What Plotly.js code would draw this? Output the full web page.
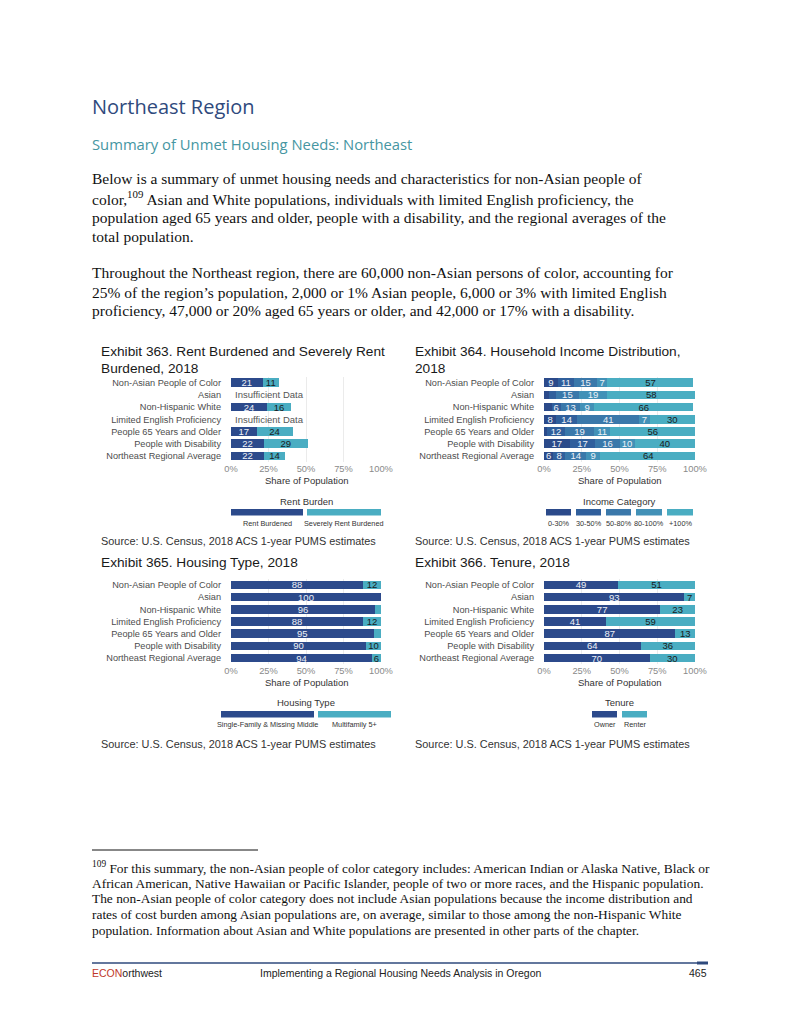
<!DOCTYPE html>
<html>
<head>
<meta charset="utf-8">
<script src="https://cdn.plot.ly/plotly-3.0.1.min.js"></script>
<style>
html,body{margin:0;padding:0;background:#fff;}
#page{width:800px;height:1035px;}
</style>
</head>
<body>
<div id="page"></div>
<script>
// ---------------- DATA ----------------
const groups = ["Non-Asian People of Color","Asian","Non-Hispanic White","Limited English Proficiency","People 65 Years and Older","People with Disability","Northeast Regional Average"];

// Exhibit 363: Rent burden (null = insufficient data)
const rentBurdened        = [21, null, 24, null, 17, 22, 22];
const severelyRentBurdened = [11, null, 16, null, 24, 29, 14];
const rentLegend = ["Rent Burdened","Severely Rent Burdened"];

// Exhibit 364: Household income distribution
const income0_30   = [9, 3, 5, 8, 2, 17, 6];
const income30_50  = [11, 5, 6, 14, 12, 17, 8];
const income50_80  = [15, 15, 13, 41, 19, 16, 14];
const income80_100 = [7, 19, 9, 7, 11, 10, 9];
const income100p   = [57, 58, 66, 30, 56, 40, 64];
const incomeLegend = ["0-30%","30-50%","50-80%","80-100%","+100%"];

// Exhibit 365: Housing type
const singleFamily = [88, 100, 96, 88, 95, 90, 94];
const multifamily  = [12, 0, 4, 12, 5, 10, 6];
const housingLegend = ["Single-Family & Missing Middle","Multifamily 5+"];

// Exhibit 366: Tenure
const owner  = [49, 93, 77, 41, 87, 64, 70];
const renter = [51, 7, 23, 59, 13, 36, 30];
const tenureLegend = ["Owner","Renter"];

const tickVals = [0,25,50,75,100];
const tickText = ["0%","25%","50%","75%","100%"];

// ---------------- STYLE ----------------
const W = 800, H = 1035;
const px = x => x / W;
const py = y => 1 - y / H;
const SANS = "Liberation Sans, Arial, sans-serif";
const SERIF = "Liberation Serif, Times New Roman, serif";
const HEAD = "Open Sans, Noto Sans, sans-serif";
const C_DARK = "#2c4a8b", C_LIGHT = "#4aadc2";
const C_INC = ["#2b4a8a","#305f9c","#3a78aa","#4291b7","#4aadc2"];
const TXT_LIGHT = "#eef1f7", TXT_DARK = "#1a1a1a";

const lab = arr => arr.map(v => (v !== null && v >= 6) ? String(v) : null);

function barTrace(vals, color, tcolor, xa, ya, name) {
  return {
    type: "bar", orientation: "h", name: name,
    y: groups, x: vals,
    text: lab(vals), textposition: "inside", insidetextanchor: "middle",
    textangle: 0, constraintext: "none",
    textfont: {family: SANS, size: 9.5, color: tcolor},
    marker: {color: color, line: {width: 0}},
    xaxis: xa, yaxis: ya, hoverinfo: "skip", showlegend: false, cliponaxis: true
  };
}

const traces = [
  barTrace(rentBurdened, C_DARK, TXT_LIGHT, "x", "y", rentLegend[0]),
  barTrace(severelyRentBurdened, C_LIGHT, TXT_DARK, "x", "y", rentLegend[1]),
  barTrace(income0_30, C_INC[0], TXT_LIGHT, "x2", "y2", incomeLegend[0]),
  barTrace(income30_50, C_INC[1], TXT_LIGHT, "x2", "y2", incomeLegend[1]),
  barTrace(income50_80, C_INC[2], TXT_LIGHT, "x2", "y2", incomeLegend[2]),
  barTrace(income80_100, C_INC[3], TXT_LIGHT, "x2", "y2", incomeLegend[3]),
  barTrace(income100p, C_INC[4], TXT_DARK, "x2", "y2", incomeLegend[4]),
  barTrace(singleFamily, C_DARK, TXT_LIGHT, "x3", "y3", housingLegend[0]),
  barTrace(multifamily, C_LIGHT, TXT_DARK, "x3", "y3", housingLegend[1]),
  barTrace(owner, C_DARK, TXT_LIGHT, "x4", "y4", tenureLegend[0]),
  barTrace(renter, C_LIGHT, TXT_DARK, "x4", "y4", tenureLegend[1])
];

function xAxis(x0, x1, anchor) {
  return {
    domain: [px(x0), px(x1)], anchor: anchor, range: [0, 100], fixedrange: true,
    tickvals: tickVals, ticktext: tickText, showgrid: true, gridcolor: "#ebebeb", gridwidth: 1,
    zeroline: false, showline: false, ticks: "", ticklabelstandoff: 0,
    tickfont: {family: SANS, size: 9.3, color: "#8a8a8a"}
  };
}
function yAxis(y0, y1, anchor) {
  return {
    domain: [py(y1), py(y0)], anchor: anchor, type: "category",
    categoryorder: "array", categoryarray: groups, autorange: "reversed", fixedrange: true,
    showgrid: false, zeroline: false, showline: false, ticks: "", ticklabelstandoff: 9,
    tickfont: {family: SANS, size: 9.2, color: "#4d4d4d"}
  };
}

const ann = [];
const shapes = [];
function A(text, x, y, size, opts) {
  opts = opts || {};
  ann.push({
    text: text, xref: "paper", yref: "paper", x: px(x), y: py(y),
    xanchor: opts.xa || "left", yanchor: "middle", showarrow: false,
    font: {family: opts.family || SANS, size: size, color: opts.color || "#1a1a1a"},
    borderpad: 0
  });
}
function R(x0, y0, x1, y1, color) {
  shapes.push({type: "rect", xref: "paper", yref: "paper", x0: px(x0), x1: px(x1), y0: py(y1), y1: py(y0),
    fillcolor: color, line: {width: 0}});
}
function L(x0, y0, x1, y1, color, w) {
  shapes.push({type: "line", xref: "paper", yref: "paper", x0: px(x0), x1: px(x1), y0: py(y0), y1: py(y1),
    line: {color: color, width: w}});
}

// Page text
A("Northeast Region", 91, 107, 20, {family: HEAD, color: "#2f4a7d"});
A("Summary of Unmet Housing Needs: Northeast", 91, 144, 14.8, {family: HEAD, color: "#4696a2"});
const p1 = [
  "Below is a summary of unmet housing needs and characteristics for non-Asian people of",
  "color,<sup>109</sup> Asian and White populations, individuals with limited English proficiency, the",
  "population aged 65 years and older, people with a disability, and the regional averages of the",
  "total population."
];
const p1y = [178, 198, 217, 236];
p1.forEach((t, i) => A(t, 91, p1y[i], 15.5, {family: SERIF, color: "#111"}));
const p2 = [
  "Throughout the Northeast region, there are 60,000 non-Asian persons of color, accounting for",
  "25% of the region’s population, 2,000 or 1% Asian people, 6,000 or 3% with limited English",
  "proficiency, 47,000 or 20% aged 65 years or older, and 42,000 or 17% with a disability."
];
const p2y = [272, 292, 310];
p2.forEach((t, i) => A(t, 91, p2y[i], 15.5, {family: SERIF, color: "#111"}));

// Chart titles
const TS = 13.7;
A("Exhibit 363. Rent Burdened and Severely Rent", 99.5, 351, TS);
A("Burdened, 2018", 99.5, 368, TS);
A("Exhibit 364. Household Income Distribution,", 413.5, 351, TS);
A("2018", 413.5, 368, TS);
A("Exhibit 365. Housing Type, 2018", 99.5, 562, TS);
A("Exhibit 366. Tenure, 2018", 413.5, 562, TS);

// Axis titles
A("Share of Population", 306, 480, 9.5, {xa: "center", color: "#333"});
A("Share of Population", 619.5, 480, 9.5, {xa: "center", color: "#333"});
A("Share of Population", 306, 682, 9.5, {xa: "center", color: "#333"});
A("Share of Population", 619.5, 682, 9.5, {xa: "center", color: "#333"});

// Insufficient data notes
["Asian", "Limited English Proficiency"].forEach(g => {
  ann.push({text: "Insufficient Data", xref: "x", yref: "y", x: 1.5, y: g, xanchor: "left", yanchor: "middle",
    showarrow: false, font: {family: SANS, size: 9.5, color: "#555"}});
});

// Legends
A("Rent Burden", 306, 501, 9.5, {xa: "center", color: "#333"});
R(231, 509, 303, 515.5, C_DARK); R(307, 509, 381, 515.5, C_LIGHT);
A(rentLegend[0], 267, 523, 7.3, {xa: "center", color: "#333"});
A(rentLegend[1], 344, 523, 7.3, {xa: "center", color: "#333"});

A("Income Category", 619.5, 501, 9.5, {xa: "center", color: "#333"});
const incX = [[546,571],[576,601],[606,631],[636,662],[667,693]];
incX.forEach((r, i) => { R(r[0], 509, r[1], 515.5, C_INC[i]); A(incomeLegend[i], (r[0]+r[1])/2, 523, 7.3, {xa: "center", color: "#333"}); });

A("Housing Type", 306, 702, 9.5, {xa: "center", color: "#333"});
R(221, 711, 314, 717.5, C_DARK); R(318, 711, 391, 717.5, C_LIGHT);
A(housingLegend[0], 267.5, 724, 7.3, {xa: "center", color: "#333"});
A(housingLegend[1], 354.5, 724, 7.3, {xa: "center", color: "#333"});

A("Tenure", 619.5, 702, 9.5, {xa: "center", color: "#333"});
R(592, 711, 617, 717.5, C_DARK); R(622, 711, 647, 717.5, C_LIGHT);
A(tenureLegend[0], 604.5, 724, 7.3, {xa: "center", color: "#333"});
A(tenureLegend[1], 634.5, 724, 7.3, {xa: "center", color: "#333"});

// Sources
const SRC = "Source: U.S. Census, 2018 ACS 1-year PUMS estimates";
A(SRC, 100, 541, 10.9, {color: "#333"});
A(SRC, 414, 541, 10.9, {color: "#333"});
A(SRC, 100, 744, 10.9, {color: "#333"});
A(SRC, 414, 744, 10.9, {color: "#333"});

// Footnote
L(92, 850, 258, 850, "#111", 1);
const fn = [
  "<sup>109</sup> For this summary, the non-Asian people of color category includes: American Indian or Alaska Native, Black or",
  "African American, Native Hawaiian or Pacific Islander, people of two or more races, and the Hispanic population.",
  "The non-Asian people of color category does not include Asian populations because the income distribution and",
  "rates of cost burden among Asian populations are, on average, similar to those among the non-Hispanic White",
  "population. Information about Asian and White populations are presented in other parts of the chapter."
];
const fny = [867, 883, 898.5, 914, 930];
fn.forEach((t, i) => A(t, 91, fny[i], 13.4, {family: SERIF, color: "#111"}));

// Footer
L(92, 963, 708, 963, "#2f4a7d", 1.5);
R(697, 961.5, 708, 964.5, "#2f4a7d");
A('<span style="color:#c0392b">ECON</span>orthwest', 91, 973, 10.5, {color: "#222"});
A("Implementing a Regional Housing Needs Analysis in Oregon", 400, 973, 10.5, {xa: "center", color: "#222"});
A("465", 708, 973, 10.5, {xa: "right", color: "#222"});

const layout = {
  width: W, height: H, margin: {l: 0, r: 0, t: 0, b: 0},
  paper_bgcolor: "#fff", plot_bgcolor: "rgba(0,0,0,0)",
  barmode: "stack", bargap: 0.29, showlegend: false,
  xaxis: xAxis(231, 381, "y"), yaxis: yAxis(376.6, 462.1, "x"),
  xaxis2: xAxis(544, 695, "y2"), yaxis2: yAxis(376.6, 462.1, "x2"),
  xaxis3: xAxis(231, 381, "y3"), yaxis3: yAxis(578.9, 664.1, "x3"),
  xaxis4: xAxis(544, 695, "y4"), yaxis4: yAxis(578.9, 664.1, "x4"),
  annotations: ann, shapes: shapes,
  font: {family: SANS}
};

Plotly.newPlot("page", traces, layout, {staticPlot: true, displayModeBar: false});
</script>
</body>
</html>
